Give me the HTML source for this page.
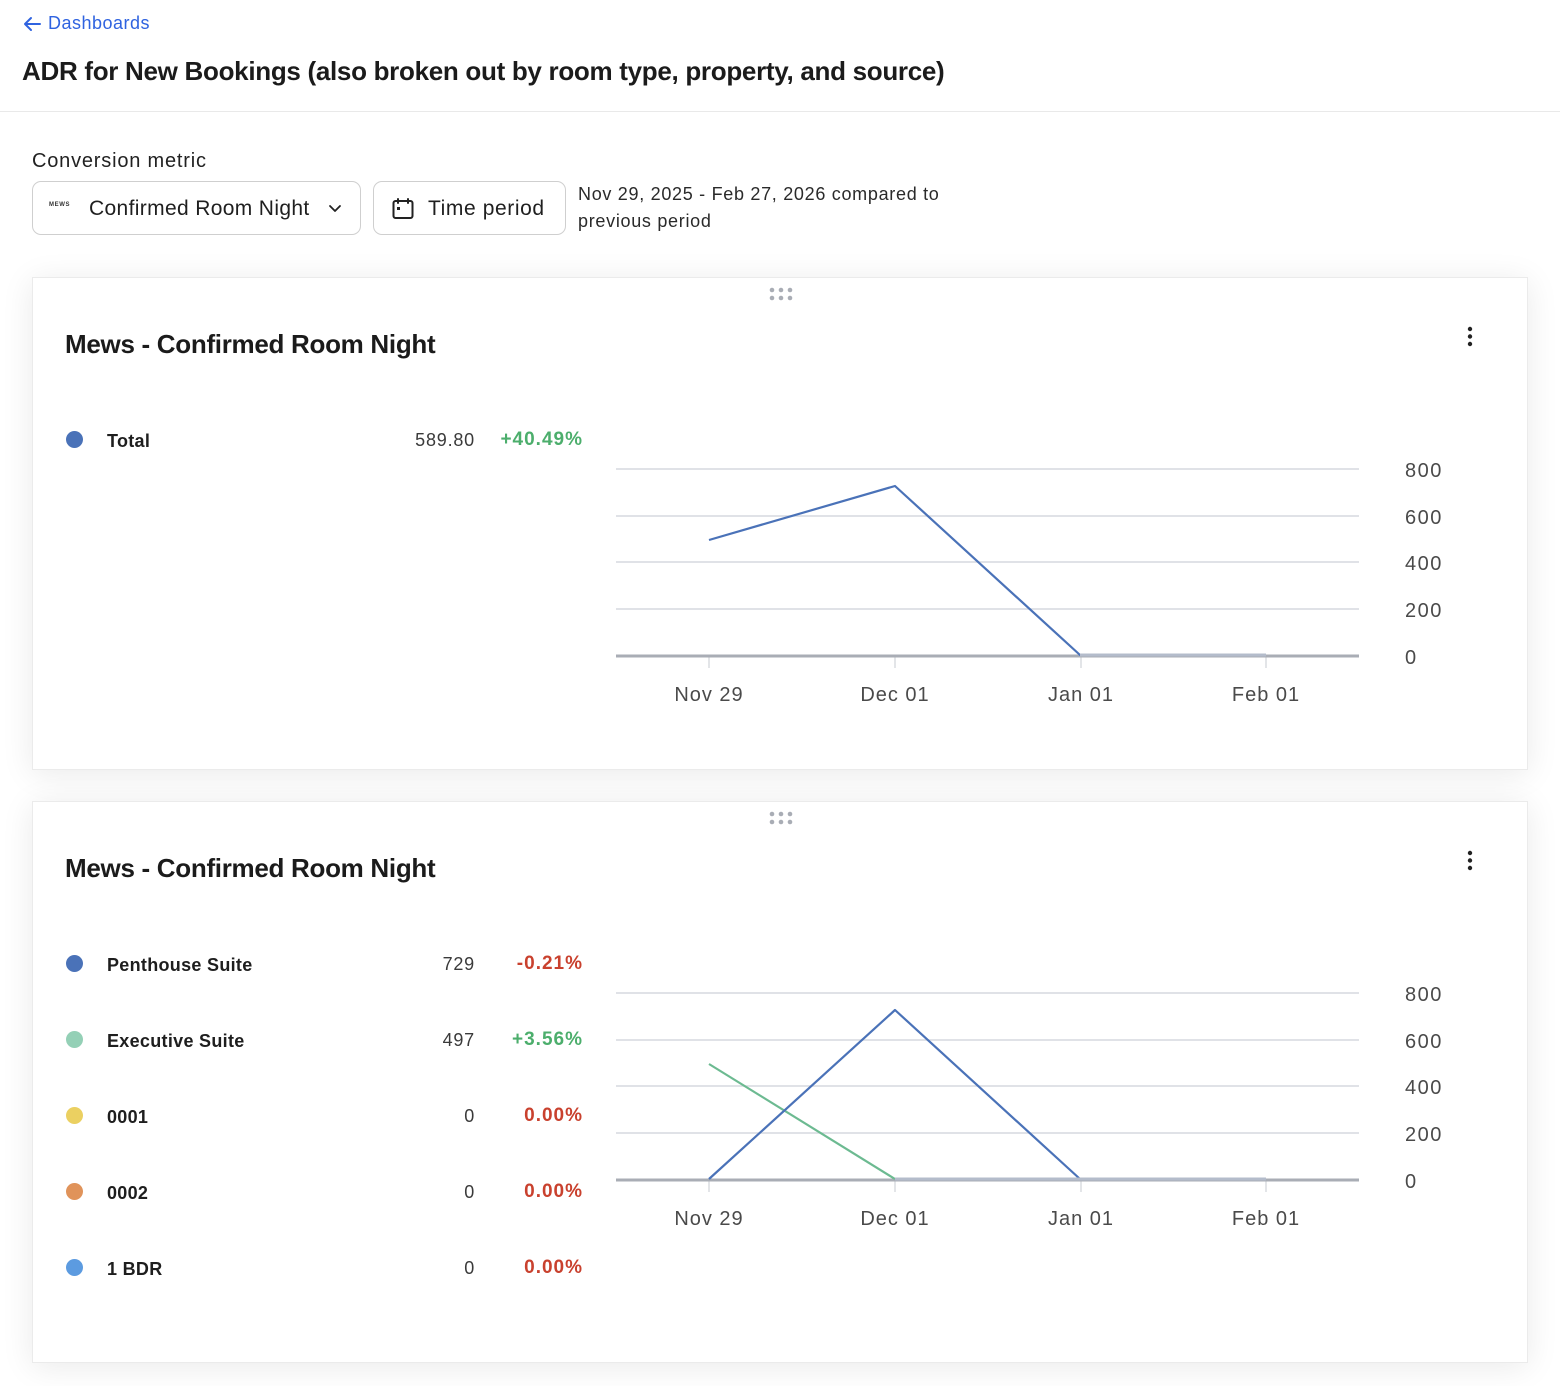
<!DOCTYPE html>
<html>
<head>
<meta charset="utf-8">
<style>
  html,body{margin:0;padding:0;background:#fff;}
  body{width:1560px;height:1386px;position:relative;overflow:hidden;font-family:"Liberation Sans",Arial,sans-serif;color:#1f1f1f;}
  .abs{position:absolute;white-space:nowrap;}
  .back{left:22px;top:12px;font-size:18px;color:#2f63e0;line-height:22px;letter-spacing:0.5px;}
  .title{left:22px;top:55px;font-size:26px;font-weight:bold;line-height:32px;color:#1b1b1b;letter-spacing:-0.3px;}
  .divider{left:0;top:111px;width:1560px;height:1px;background:#e9e9e9;}
  .label{left:32px;top:149px;font-size:20px;line-height:24px;color:#222;letter-spacing:0.8px;}
  .btn{position:absolute;top:181px;height:52px;border:1px solid #cfcfcf;border-radius:9px;background:#fff;box-sizing:content-box;}
  .btntext{position:absolute;font-size:21px;line-height:26px;top:14px;color:#1f1f1f;white-space:nowrap;}
  .date{left:578px;top:181px;font-size:18px;line-height:27px;color:#2a2a2a;letter-spacing:0.7px;}
  .card{position:absolute;left:32px;width:1496px;background:#fff;border:1px solid #ebebeb;box-sizing:border-box;box-shadow:0 4px 30px rgba(0,0,0,0.085);}
  .ctitle{position:absolute;left:32px;font-size:26px;font-weight:bold;line-height:32px;color:#1b1b1b;white-space:nowrap;letter-spacing:-0.3px;}
  .dot{position:absolute;width:17px;height:17px;border-radius:50%;}
  .lname{position:absolute;left:74px;font-size:18px;font-weight:bold;line-height:22px;color:#1e1e1e;white-space:nowrap;letter-spacing:0.3px;}
  .lval{position:absolute;right:1052px;font-size:18px;line-height:22px;color:#3a3a3a;white-space:nowrap;text-align:right;letter-spacing:0.8px;}
  .lpct{position:absolute;right:944px;font-size:19px;font-weight:bold;line-height:22px;white-space:nowrap;text-align:right;letter-spacing:1px;}
  .g{color:#4cae6c;}
  .r{color:#c9412e;}
  svg text{font-family:"Liberation Sans",Arial,sans-serif;}
</style>
</head>
<body>
  <div class="abs back">
    <svg width="20" height="16" style="position:absolute;left:0;top:4px" viewBox="0 0 20 16"><path d="M18 8H3M9 2L3 8l6 6" fill="none" stroke="#2f63e0" stroke-width="2" stroke-linecap="round" stroke-linejoin="round"/></svg>
    <span style="margin-left:26px">Dashboards</span>
  </div>
  <div class="abs title">ADR for New Bookings (also broken out by room type, property, and source)</div>
  <div class="abs divider"></div>

  <div class="abs label">Conversion metric</div>
  <div class="btn" style="left:32px;width:327px;">
    <div style="position:absolute;left:16px;top:20px;font-size:6px;letter-spacing:0.6px;font-weight:bold;color:#333;">MEWS</div>
    <div class="btntext" style="left:56px;letter-spacing:0.35px;">Confirmed Room Night</div>
    <svg style="position:absolute;left:294px;top:21px" width="16" height="12" viewBox="0 0 16 12"><path d="M3 3l5 5 5-5" fill="none" stroke="#222" stroke-width="1.8" stroke-linecap="round" stroke-linejoin="round"/></svg>
  </div>
  <div class="btn" style="left:373px;width:191px;">
    <svg style="position:absolute;left:17px;top:15px" width="24" height="24" viewBox="0 0 24 24"><rect x="2.5" y="4" width="19" height="17" rx="2" fill="none" stroke="#222" stroke-width="2"/><path d="M7 2v4M17 2v4" stroke="#222" stroke-width="2" stroke-linecap="round"/><rect x="6" y="10" width="3" height="3" fill="#222"/></svg>
    <div class="btntext" style="left:54px;letter-spacing:0.6px;">Time period</div>
  </div>
  <div class="abs date">Nov 29, 2025 - Feb 27, 2026 compared to<br>previous period</div>

  <!-- Card 1 -->
  <div class="card" style="top:277px;height:493px;">
    <svg style="position:absolute;left:736px;top:9px" width="26" height="14" viewBox="0 0 26 14"><g fill="#a9adb5"><circle cx="3" cy="3" r="2.3"/><circle cx="12" cy="3" r="2.3"/><circle cx="21" cy="3" r="2.3"/><circle cx="3" cy="11" r="2.3"/><circle cx="12" cy="11" r="2.3"/><circle cx="21" cy="11" r="2.3"/></g></svg>
    <svg style="position:absolute;left:1432px;top:48px" width="10" height="22" viewBox="0 0 10 22"><g fill="#222"><circle cx="5" cy="3" r="2.2"/><circle cx="5" cy="10.5" r="2.2"/><circle cx="5" cy="18" r="2.2"/></g></svg>
    <div class="ctitle" style="top:50px;">Mews - Confirmed Room Night</div>

    <div class="dot" style="left:33px;top:153px;background:#4a72b8;"></div>
    <div class="lname" style="top:152px;">Total</div>
    <div class="lval" style="top:151px;">589.80</div>
    <div class="lpct g" style="top:151px;">+40.49%</div>
  </div>

  <!-- Card 2 -->
  <div class="card" style="top:801px;height:562px;">
    <svg style="position:absolute;left:736px;top:9px" width="26" height="14" viewBox="0 0 26 14"><g fill="#a9adb5"><circle cx="3" cy="3" r="2.3"/><circle cx="12" cy="3" r="2.3"/><circle cx="21" cy="3" r="2.3"/><circle cx="3" cy="11" r="2.3"/><circle cx="12" cy="11" r="2.3"/><circle cx="21" cy="11" r="2.3"/></g></svg>
    <svg style="position:absolute;left:1432px;top:48px" width="10" height="22" viewBox="0 0 10 22"><g fill="#222"><circle cx="5" cy="3" r="2.2"/><circle cx="5" cy="10.5" r="2.2"/><circle cx="5" cy="18" r="2.2"/></g></svg>
    <div class="ctitle" style="top:50px;">Mews - Confirmed Room Night</div>

    <div class="dot" style="left:33px;top:153px;background:#4a72b8;"></div>
    <div class="lname" style="top:152px;">Penthouse Suite</div>
    <div class="lval" style="top:151px;">729</div>
    <div class="lpct r" style="top:151px;">-0.21%</div>

    <div class="dot" style="left:33px;top:229px;background:#94d0b6;"></div>
    <div class="lname" style="top:228px;">Executive Suite</div>
    <div class="lval" style="top:227px;">497</div>
    <div class="lpct g" style="top:227px;">+3.56%</div>

    <div class="dot" style="left:33px;top:305px;background:#ebd061;"></div>
    <div class="lname" style="top:304px;">0001</div>
    <div class="lval" style="top:303px;">0</div>
    <div class="lpct r" style="top:303px;">0.00%</div>

    <div class="dot" style="left:33px;top:381px;background:#e0935a;"></div>
    <div class="lname" style="top:380px;">0002</div>
    <div class="lval" style="top:379px;">0</div>
    <div class="lpct r" style="top:379px;">0.00%</div>

    <div class="dot" style="left:33px;top:457px;background:#5c9be0;"></div>
    <div class="lname" style="top:456px;">1 BDR</div>
    <div class="lval" style="top:455px;">0</div>
    <div class="lpct r" style="top:455px;">0.00%</div>
  </div>

  <svg class="abs" style="left:0;top:0" width="1560" height="1386" viewBox="0 0 1560 1386">
    <!-- Chart 1 -->
    <g stroke="#d6d9df" stroke-width="1.5">
      <line x1="616" y1="469" x2="1359" y2="469"/>
      <line x1="616" y1="516" x2="1359" y2="516"/>
      <line x1="616" y1="562" x2="1359" y2="562"/>
      <line x1="616" y1="609" x2="1359" y2="609"/>
    </g>
    <g stroke="#d0d3d8" stroke-width="1.2">
      <line x1="709" y1="656" x2="709" y2="668"/>
      <line x1="895" y1="656" x2="895" y2="668"/>
      <line x1="1081" y1="656" x2="1081" y2="668"/>
      <line x1="1266" y1="656" x2="1266" y2="668"/>
    </g>
    <line x1="616" y1="656" x2="1359" y2="656" stroke="#a9adb5" stroke-width="3"/>
    <polyline points="709,540 895,486 1080,655 1266,655" fill="none" stroke="#4a72b8" stroke-width="2.2" stroke-linejoin="round"/>
    <line x1="1080" y1="655" x2="1266" y2="655" stroke="#b4bccb" stroke-width="3"/>
    <g font-size="20" fill="#4a4a4a" letter-spacing="1.5">
      <text x="1405" y="477">800</text>
      <text x="1405" y="524">600</text>
      <text x="1405" y="570">400</text>
      <text x="1405" y="617">200</text>
      <text x="1405" y="664">0</text>
    </g>
    <g font-size="20" fill="#4a4a4a" text-anchor="middle" letter-spacing="1">
      <text x="709" y="701">Nov 29</text>
      <text x="895" y="701">Dec 01</text>
      <text x="1081" y="701">Jan 01</text>
      <text x="1266" y="701">Feb 01</text>
    </g>

    <!-- Chart 2 -->
    <g stroke="#d6d9df" stroke-width="1.5">
      <line x1="616" y1="993" x2="1359" y2="993"/>
      <line x1="616" y1="1040" x2="1359" y2="1040"/>
      <line x1="616" y1="1086" x2="1359" y2="1086"/>
      <line x1="616" y1="1133" x2="1359" y2="1133"/>
    </g>
    <g stroke="#d0d3d8" stroke-width="1.2">
      <line x1="709" y1="1180" x2="709" y2="1192"/>
      <line x1="895" y1="1180" x2="895" y2="1192"/>
      <line x1="1081" y1="1180" x2="1081" y2="1192"/>
      <line x1="1266" y1="1180" x2="1266" y2="1192"/>
    </g>
    <line x1="616" y1="1180" x2="1359" y2="1180" stroke="#a9adb5" stroke-width="3"/>
    <polyline points="709,1064 895,1179" fill="none" stroke="#6cba91" stroke-width="2.2"/>
    <polyline points="709,1179 895,1010 1080,1179" fill="none" stroke="#4a72b8" stroke-width="2.2" stroke-linejoin="round"/>
    <line x1="895" y1="1179" x2="1266" y2="1179" stroke="#b4bccb" stroke-width="3"/>
    <g font-size="20" fill="#4a4a4a" letter-spacing="1.5">
      <text x="1405" y="1001">800</text>
      <text x="1405" y="1048">600</text>
      <text x="1405" y="1094">400</text>
      <text x="1405" y="1141">200</text>
      <text x="1405" y="1188">0</text>
    </g>
    <g font-size="20" fill="#4a4a4a" text-anchor="middle" letter-spacing="1">
      <text x="709" y="1225">Nov 29</text>
      <text x="895" y="1225">Dec 01</text>
      <text x="1081" y="1225">Jan 01</text>
      <text x="1266" y="1225">Feb 01</text>
    </g>
  </svg>
</body>
</html>
